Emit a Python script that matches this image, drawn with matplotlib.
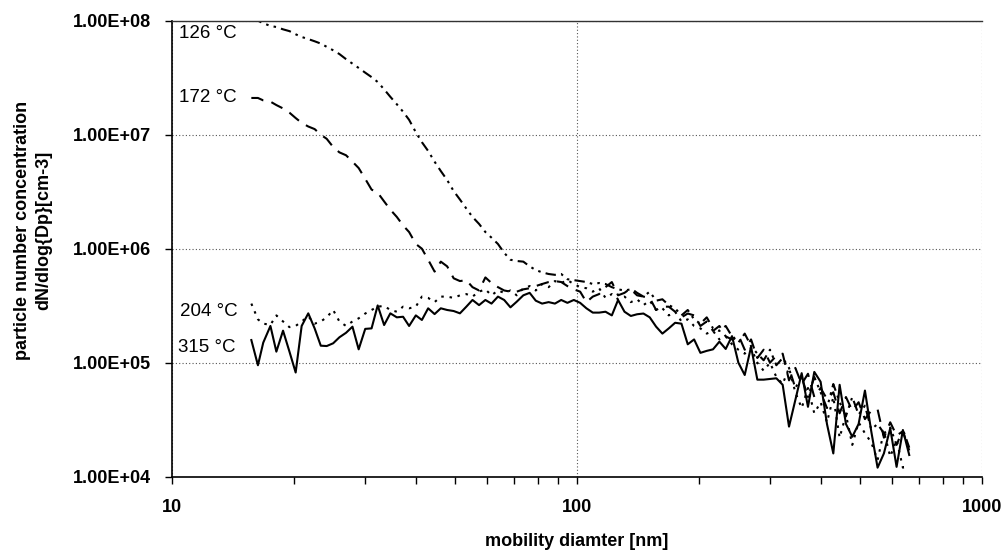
import matplotlib
matplotlib.use("Agg")
import matplotlib.pyplot as plt
from matplotlib.ticker import FixedLocator, LogLocator, NullFormatter, FixedFormatter

plt.rcParams['font.family'] = ['Liberation Sans', 'DejaVu Sans']

# SMPS channel mid-point diameters [nm]
diameter = [15.7, 16.3, 16.8, 17.5, 18.1, 18.8, 19.5, 20.2, 20.9, 21.7, 22.5, 23.3, 24.1, 25.0,
            25.9, 26.9, 27.9, 28.9, 30.0, 31.1, 32.2, 33.4, 34.6, 35.9, 37.2, 38.5, 40.0, 41.4,
            42.9, 44.5, 46.1, 47.8, 49.6, 51.4, 53.3, 55.2, 57.3, 59.4, 61.5, 63.8, 66.1, 68.5,
            71.0, 73.7, 76.4, 79.1, 82.0, 85.1, 88.2, 91.4, 94.7, 98.2, 101.8, 105.5, 109.4,
            113.4, 117.6, 121.9, 126.3, 131.0, 135.8, 140.7, 145.9, 151.2, 156.8, 162.5, 168.5,
            174.7, 181.1, 187.7, 194.6, 201.7, 209.1, 216.7, 224.7, 232.9, 241.4, 250.3, 259.5,
            269.0, 278.8, 289.0, 299.6, 310.6, 322.0, 333.8, 346.0, 358.7, 371.8, 385.4, 399.5,
            414.2, 429.4, 445.1, 461.4, 478.3, 495.8, 514.0, 532.8, 552.3, 572.5, 593.5, 615.3,
            637.8, 661.2]

# 126 °C
conc_126 = [1.0e8, 1.0e8, 9.5e7, 9.0e7, 8.8e7, 8.4e7, 8.1e7, 7.6e7, 7.2e7, 6.9e7,
            6.6e7, 6.3e7, 5.9e7, 5.5e7, 5.1e7, 4.6e7, 4.2e7, 3.85e7, 3.5e7, 3.2e7,
            2.9e7, 2.5e7, 2.15e7, 1.85e7, 1.59e7, 1.35e7, 1.05e7, 8.6e6, 7.2e6, 5.8e6,
            4.8e6, 4.0e6, 3.2e6, 2.7e6, 2.25e6, 1.9e6, 1.65e6, 1.4e6, 1.25e6, 1.1e6,
            9.2e5, 8.0e5, 7.8e5, 7.7e5, 7.0e5, 6.5e5, 6.2e5, 6.0e5, 5.9e5, 6.0e5,
            5.4e5, 5.3e5, 5.2e5, 5.1e5, 4.9e5, 5.0e5, 4.9e5, 4.6e5, 4.4e5, 4.3e5,
            4.4e5, 3.9e5, 3.8e5, 4.2e5, 3.5e5, 3.6e5, 3.2e5, 3.0e5, 2.6e5, 2.9e5,
            2.4e5, 2.2e5, 2.5e5, 2.0e5, 1.9e5, 2.1e5, 1.7e5, 1.5e5, 1.8e5, 1.4e5,
            1.2e5, 1.05e5, 1.3e5, 9.5e4, 1.1e5, 9.0e4, 6.0e4, 7.5e4, 5.0e4, 7.5e4,
            5.5e4, 4.0e4, 6.5e4, 4.5e4, 3.4e4, 5.0e4, 3.5e4, 4.2e4, 2.6e4, 2.9e4,
            2.4e4, 2.7e4, 1.9e4, 2.6e4, 1.8e4]

# 172 °C
conc_172 = [2.1e7, 2.1e7, 2.0e7, 1.95e7, 1.82e7, 1.7e7, 1.56e7, 1.4e7, 1.27e7, 1.18e7,
            1.12e7, 1.0e7, 9.2e6, 7.8e6, 7.0e6, 6.6e6, 5.8e6, 5.1e6, 4.1e6, 3.3e6,
            3.1e6, 2.6e6, 2.2e6, 1.9e6, 1.6e6, 1.4e6, 1.1e6, 1.0e6, 8.0e5, 6.3e5,
            7.7e5, 7.0e5, 5.5e5, 5.2e5, 5.3e5, 4.6e5, 4.3e5, 5.6e5, 5.0e5, 4.6e5,
            4.3e5, 4.2e5, 4.2e5, 4.4e5, 4.5e5, 4.7e5, 4.9e5, 5.1e5, 5.2e5, 5.1e5,
            4.7e5, 4.4e5, 4.2e5, 3.4e5, 3.8e5, 4.0e5, 4.6e5, 5.1e5, 3.9e5, 4.1e5,
            4.5e5, 4.1e5, 3.8e5, 3.7e5, 2.9e5, 3.1e5, 3.1e5, 2.8e5, 2.5e5, 2.7e5,
            2.6e5, 2.1e5, 2.3e5, 1.9e5, 2.1e5, 1.7e5, 1.6e5, 1.75e5, 1.3e5, 1.6e5,
            1.1e5, 1.3e5, 1.0e5, 1.15e5, 1.2e5, 7.0e4, 9.0e4, 6.5e4, 8.0e4, 5.0e4,
            6.0e4, 4.8e4, 5.5e4, 3.6e4, 5.0e4, 3.8e4, 4.5e4, 3.2e4, 3.8e4, 3.9e4,
            2.2e4, 3.0e4, 2.3e4, 2.5e4, 1.7e4]

# 204 °C
conc_204 = [3.3e5, 2.4e5, 2.2e5, 2.15e5, 2.6e5, 2.3e5, 2.05e5, 2.1e5, 2.3e5, 2.55e5,
            2.2e5, 2.3e5, 2.5e5, 2.9e5, 2.3e5, 2.1e5, 2.3e5, 2.45e5, 2.7e5, 2.9e5,
            3.1e5, 3.15e5, 2.9e5, 2.8e5, 3.1e5, 3.0e5, 3.1e5, 3.8e5, 3.7e5, 3.4e5,
            3.8e5, 3.8e5, 3.7e5, 3.9e5, 4.0e5, 3.8e5, 4.2e5, 4.4e5, 3.9e5, 4.3e5,
            4.1e5, 4.3e5, 3.9e5, 4.5e5, 4.7e5, 4.3e5, 4.9e5, 4.6e5, 5.2e5, 5.0e5,
            5.3e5, 4.9e5, 4.6e5, 4.5e5, 4.2e5, 4.5e5, 3.7e5, 4.0e5, 3.6e5, 3.8e5,
            3.4e5, 3.6e5, 3.2e5, 3.5e5, 2.9e5, 3.0e5, 2.6e5, 2.8e5, 2.3e5, 2.4e5,
            2.1e5, 2.0e5, 1.8e5, 1.9e5, 1.6e5, 1.7e5, 1.45e5, 1.3e5, 1.2e5, 1.35e5,
            1.0e5, 8.5e4, 1.0e5, 7.5e4, 6.5e4, 9.0e4, 5.5e4, 4.0e4, 6.0e4, 3.6e4,
            4.5e4, 3.0e4, 5.0e4, 2.2e4, 3.5e4, 1.9e4, 3.0e4, 2.4e4, 2.0e4, 1.4e4,
            2.5e4, 1.5e4, 2.1e4, 1.2e4, 1.25e4]

# 315 °C
conc_315 = [1.58e5, 9.5e4, 1.5e5, 2.1e5, 1.25e5, 1.91e5, 1.25e5, 8.2e4, 2.1e5, 2.71e5,
            2.0e5, 1.41e5, 1.40e5, 1.48e5, 1.67e5, 1.83e5, 2.07e5, 1.31e5, 1.98e5, 2.0e5,
            3.18e5, 2.14e5, 2.71e5, 2.5e5, 2.53e5, 2.1e5, 2.6e5, 2.37e5, 3.0e5, 2.67e5,
            3.0e5, 2.9e5, 2.84e5, 2.71e5, 3.1e5, 3.55e5, 3.2e5, 3.55e5, 3.3e5, 3.8e5,
            3.55e5, 3.06e5, 3.43e5, 3.9e5, 4.1e5, 3.5e5, 3.3e5, 3.4e5, 3.3e5, 3.55e5,
            3.35e5, 3.55e5, 3.35e5, 3.0e5, 2.75e5, 2.75e5, 2.8e5, 2.6e5, 3.55e5, 2.8e5,
            2.57e5, 2.66e5, 2.7e5, 2.5e5, 2.07e5, 1.8e5, 2.0e5, 2.24e5, 2.2e5, 1.45e5,
            1.6e5, 1.22e5, 1.27e5, 1.31e5, 1.53e5, 1.32e5, 1.71e5, 1.0e5, 7.8e4, 1.38e5,
            7.1e4, 7.1e4, 7.2e4, 7.3e4, 6.4e4, 2.75e4, 4.7e4, 8.1e4, 4.1e4, 8.3e4,
            6.8e4, 2.9e4, 1.6e4, 6.4e4, 2.9e4, 2.24e4, 2.9e4, 5.7e4, 2.5e4, 1.2e4,
            1.6e4, 2.66e4, 1.22e4, 2.57e4, 1.55e4]

labels = ["126 °C", "172 °C", "204 °C", "315 °C"]
y_ticks = [1e4, 1e5, 1e6, 1e7, 1e8]
y_tick_labels = ["1.00E+04", "1.00E+05", "1.00E+06", "1.00E+07", "1.00E+08"]
x_ticks = [10, 100, 1000]
x_tick_labels = ["10", "100", "1000"]

W, H = 1003, 552
fig = plt.figure(figsize=(W / 100, H / 100), dpi=100)
ax = fig.add_axes([172 / W, 1 - 476.7 / H, (982 - 172) / W, (476.7 - 20.7) / H])

ax.set_xscale('log')
ax.set_yscale('log')
ax.set_xlim(10, 1000)
ax.set_ylim(1e4, 1e8)

lw = 1.5
ax.plot(diameter, conc_126, color='black', lw=lw, dashes=(5, 2.5, 1.2, 2.5, 1.2, 2.5), label=labels[0])
ax.plot(diameter, conc_172, color='black', lw=lw, dashes=(6, 4), label=labels[1])
ax.plot(diameter, conc_204, color='black', lw=lw, dashes=(1.2, 2.8), label=labels[2])
ax.plot(diameter, conc_315, color='black', lw=lw, linestyle='-', label=labels[3])

ax.yaxis.set_major_locator(FixedLocator(y_ticks))
ax.yaxis.set_major_formatter(FixedFormatter(y_tick_labels))
ax.yaxis.set_minor_locator(FixedLocator([]))
ax.xaxis.set_major_locator(FixedLocator(x_ticks))
ax.xaxis.set_major_formatter(FixedFormatter(x_tick_labels))
ax.xaxis.set_minor_locator(LogLocator(base=10, subs=range(2, 10)))
ax.xaxis.set_minor_formatter(NullFormatter())
ax.grid(True, which='major', color='#555555', lw=0.8, linestyle=(0, (1, 2)))
ax.set_axisbelow(True)

ax.spines['right'].set_visible(False)
ax.spines['top'].set_color('#333333')
ax.spines['top'].set_linewidth(1.0)
ax.spines['left'].set_linewidth(1.2)
ax.spines['bottom'].set_linewidth(1.2)

ax.tick_params(axis='both', which='major', direction='out', length=5, width=1,
               labelsize=13, colors='black')
ax.tick_params(axis='x', which='minor', direction='out', length=5, width=1)
ax.tick_params(axis='y', pad=10)
ax.tick_params(axis='x', pad=11)
for t in ax.get_xticklabels() + ax.get_yticklabels():
    t.set_fontweight('bold')

fig.text(577 / W, 1 - 541 / H, "mobility diamter [nm]", ha='center', va='center',
         fontsize=13, fontweight='bold')
fig.text(33 / W, 1 - 230 / H, "particle number concentration\ndN/dlog{Dp}[cm-3]",
         rotation=90, ha='center', va='center', fontsize=13, fontweight='bold',
         linespacing=1.3)

ann = [(labels[0], 179, 33), (labels[1], 179, 97), (labels[2], 180, 311), (labels[3], 178, 348)]
for txt, px, py in ann:
    fig.text(px / W, 1 - py / H, txt, ha='left', va='center', fontsize=13.5)

fig.savefig("out.png", dpi=100)
